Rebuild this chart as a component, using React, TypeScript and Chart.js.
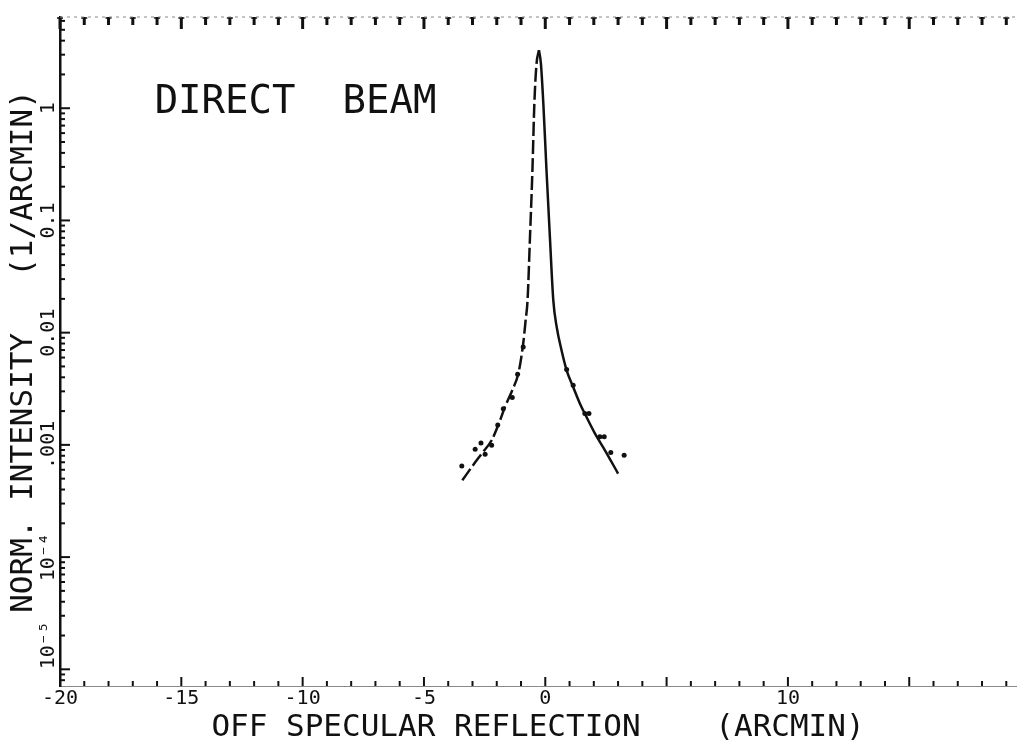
import React, { useEffect, useRef } from "react";
import { Chart, registerables } from "chart.js";

Chart.register(...registerables);

// ---- data ----
const LEFT_X = [-3.42, -3.03, -2.62, -2.21, -1.86, -1.66, -1.36, -1.11, -0.91, -0.81, -0.73, -0.63, -0.53, -0.45, -0.36, -0.26];
const LEFT_Y = [4.83e-4, 6.35e-4, 8.36e-4, 1.10e-3, 1.66e-3, 2.18e-3, 3.07e-3, 4.32e-3, 8.0e-3, 0.0129, 0.0195, 0.0713, 0.28, 1.10, 2.50, 3.29];

const RIGHT_X = [-0.26, -0.18, -0.08, 0.05, 0.19, 0.33, 0.47, 0.67, 0.88, 1.15, 1.43, 1.70, 2.05, 2.46, 3.0];
const RIGHT_Y = [3.29, 2.50, 1.10, 0.28, 0.0713, 0.0195, 0.01125, 6.97e-3, 4.62e-3, 3.28e-3, 2.33e-3, 1.77e-3, 1.26e-3, 8.95e-4, 5.55e-4];

const POINT_X = [-3.44, -2.89, -2.65, -2.48, -2.21, -1.96, -1.73, -1.36, -1.14, -0.91, 0.88, 1.15, 1.63, 1.80, 2.25, 2.43, 2.70, 3.25];
const POINT_Y = [6.48e-4, 9.14e-4, 1.04e-3, 8.24e-4, 9.91e-4, 1.50e-3, 2.10e-3, 2.64e-3, 4.26e-3, 7.46e-3, 4.69e-3, 3.40e-3, 1.90e-3, 1.90e-3, 1.18e-3, 1.18e-3, 8.54e-4, 8.07e-4];

const X_MIN = -20;
const X_MAX = 19.4;
const X_LABELS = [-20, -15, -10, -5, 0, 10];

const Y_MIN = 7.1e-6;
const Y_MAX = 6.5;
const Y_DECADES = [1e-5, 1e-4, 1e-3, 0.01, 0.1, 1];
const Y_DECADE_LABELS = ["    10\u207B\u2075", "10\u207B\u2074", ".001", "0.01", "0.1", "1"];

const X_TITLE = "OFF SPECULAR REFLECTION    (ARCMIN)";
const Y_TITLE = "NORM. INTENSITY   (1/ARCMIN)";
const NOTE_TEXT = "DIRECT  BEAM";
const NOTE_POS = { x: -16.1, y: 0.9 };

const FONT = "'DejaVu Sans Mono', 'Liberation Mono', monospace";
const INK = "#111";

// tick positions
const X_TICKS: number[] = [];
for (let v = -20; v <= 19; v++) X_TICKS.push(v);
const Y_TICKS: number[] = [];
for (let e = -6; e <= 0; e++) {
  for (let k = 1; k <= 9; k++) {
    const v = parseFloat((k * Math.pow(10, e)).toPrecision(6));
    if (v >= Y_MIN && v <= Y_MAX) Y_TICKS.push(v);
  }
}

const isDecade = (v: number) => Math.abs(Math.log10(v) - Math.round(Math.log10(v))) < 1e-9;

const zip = (xs: number[], ys: number[]) => xs.map((x, i) => ({ x, y: ys[i] }));

const decorPlugin = {
  id: "decor",
  afterDraw(chart: any) {
    const { ctx, chartArea } = chart;
    const xs = chart.scales.x;
    const ys = chart.scales.y;
    ctx.save();
    ctx.strokeStyle = INK;
    ctx.lineCap = "butt";
    // y ticks (inward)
    ys.ticks.forEach((t: any) => {
      const py = ys.getPixelForValue(t.value);
      const len = isDecade(t.value) ? 10 : 5;
      ctx.lineWidth = 2;
      ctx.beginPath();
      ctx.moveTo(chartArea.left, py);
      ctx.lineTo(chartArea.left + len, py);
      ctx.stroke();
    });
    // bottom & top ticks
    xs.ticks.forEach((t: any) => {
      const px = xs.getPixelForValue(t.value);
      const major = Math.round(t.value) % 5 === 0;
      ctx.lineWidth = 2;
      ctx.beginPath();
      ctx.moveTo(px, chartArea.bottom);
      ctx.lineTo(px, chartArea.bottom - (major ? 9 : 5));
      ctx.stroke();
      ctx.lineWidth = 3;
      ctx.beginPath();
      ctx.moveTo(px, chartArea.top);
      ctx.lineTo(px, chartArea.top + (major ? 12 : 8));
      ctx.stroke();
      ctx.lineWidth = 1.5;
      ctx.beginPath();
      ctx.moveTo(px - 3, chartArea.top + 1);
      ctx.lineTo(px + 3, chartArea.top + 1);
      ctx.stroke();
    });
    // top border (faint, dashed)
    ctx.strokeStyle = "#888";
    ctx.lineWidth = 1;
    ctx.setLineDash([3, 4]);
    ctx.beginPath();
    ctx.moveTo(chartArea.left, chartArea.top);
    ctx.lineTo(chartArea.right, chartArea.top);
    ctx.stroke();
    ctx.setLineDash([]);
    // annotation
    ctx.fillStyle = INK;
    ctx.font = `39px ${FONT}`;
    ctx.textBaseline = "alphabetic";
    ctx.textAlign = "left";
    ctx.fillText(NOTE_TEXT, xs.getPixelForValue(NOTE_POS.x), ys.getPixelForValue(NOTE_POS.y));
    ctx.restore();
  },
};

export default function App() {
  const ref = useRef<HTMLCanvasElement | null>(null);
  useEffect(() => {
    if (!ref.current) return;
    const chart = new Chart(ref.current, {
      type: "scatter",
      data: {
        datasets: [
          {
            data: zip(LEFT_X, LEFT_Y),
            showLine: true,
            borderColor: INK,
            borderWidth: 2.5,
            borderDash: [14, 4],
            pointRadius: 0,
            cubicInterpolationMode: "monotone",
          },
          {
            data: zip(RIGHT_X, RIGHT_Y),
            showLine: true,
            borderColor: INK,
            borderWidth: 2.5,
            pointRadius: 0,
            cubicInterpolationMode: "monotone",
          },
          {
            data: zip(POINT_X, POINT_Y),
            showLine: false,
            pointRadius: 2.5,
            pointBackgroundColor: INK,
            pointBorderColor: INK,
            pointBorderWidth: 0,
          },
        ],
      } as any,
      options: {
        animation: false,
        responsive: false,
        maintainAspectRatio: false,
        layout: { padding: { top: 17, right: 2, left: 0, bottom: 0 } },
        plugins: { legend: { display: false }, tooltip: { enabled: false }, title: { display: false } },
        scales: {
          x: {
            type: "linear",
            min: X_MIN,
            max: X_MAX,
            afterBuildTicks: (s: any) => {
              s.ticks = X_TICKS.map((v) => ({ value: v }));
            },
            afterFit: (s: any) => {
              s.height = 55;
            },
            grid: { display: false },
            border: { display: true, color: "#888", width: 1, dash: [3, 4] },
            ticks: {
              autoSkip: false,
              minRotation: 0,
              maxRotation: 0,
              padding: -7,
              color: INK,
              font: { family: FONT, size: 20 },
              callback: (v: any) => (X_LABELS.includes(Number(v)) ? String(v) : ""),
            },
            title: {
              display: true,
              text: X_TITLE,
              color: INK,
              font: { family: FONT, size: 31, lineHeight: 1 },
              padding: { top: 0, bottom: -2 },
            },
          },
          y: {
            type: "logarithmic",
            min: Y_MIN,
            max: Y_MAX,
            afterBuildTicks: (s: any) => {
              s.ticks = Y_TICKS.map((v) => ({ value: v, major: isDecade(v) }));
            },
            afterFit: (s: any) => {
              s.width = 60;
            },
            grid: { display: false },
            border: { display: true, color: INK, width: 2.5 },
            ticks: {
              autoSkip: false,
              minRotation: 90,
              maxRotation: 90,
              crossAlign: "center",
              padding: -45,
              color: INK,
              font: { family: FONT, size: 20 },
              callback: (v: any) => {
                const n = Number(v);
                const i = Y_DECADES.findIndex((d) => Math.abs(Math.log10(d) - Math.log10(n)) < 1e-6);
                return i >= 0 ? Y_DECADE_LABELS[i] : "";
              },
            },
            title: {
              display: true,
              text: Y_TITLE,
              color: INK,
              font: { family: FONT, size: 31, lineHeight: 1 },
              padding: { top: 8, bottom: 0 },
            },
          },
        },
      } as any,
      plugins: [decorPlugin],
    });
    return () => chart.destroy();
  }, []);

  return (
    <div style={{ position: "fixed", left: 0, top: 0, width: 1020, height: 741, background: "#fff" }}>
      <canvas ref={ref} width={1020} height={741} style={{ display: "block", width: 1020, height: 741 }} />
    </div>
  );
}
